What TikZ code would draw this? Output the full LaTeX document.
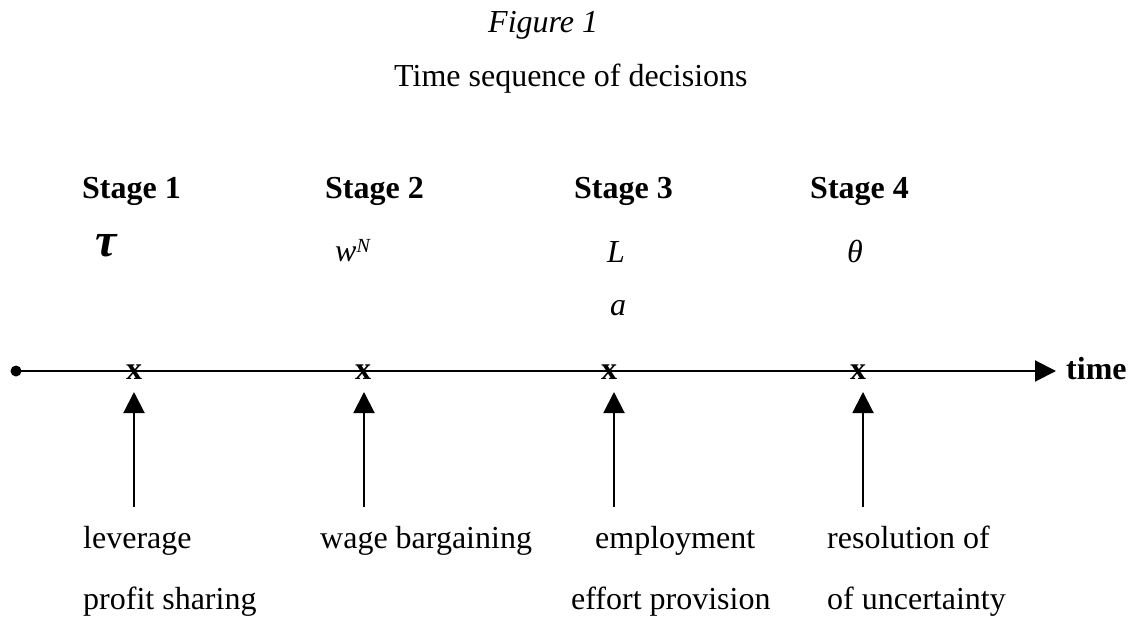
\documentclass[tikz,border=0pt]{standalone}
\usepackage{fontspec}
\setmainfont{Liberation Serif}
\usetikzlibrary{arrows.meta}
\begin{document}
\begin{tikzpicture}[x=1pt,y=-1pt,
  txt/.style={anchor=base west,inner sep=0pt,font=\fontsize{32}{38}\selectfont},
  btxt/.style={txt,font=\fontsize{32}{38}\selectfont\bfseries},
  itxt/.style={txt,font=\fontsize{32}{38}\selectfont\itshape},
  xmark/.style={anchor=base,inner sep=0pt,font=\fontsize{32}{38}\selectfont\bfseries},
  axis/.style={line width=2pt,-{Triangle[length=21pt,width=21pt]}},
  uparrow/.style={line width=2pt,-{Triangle[length=21pt,width=21pt]}}]
\useasboundingbox (0,0) rectangle (1132,617);
% titles
\node[itxt] (fig) at (488,33) {Figure 1};
\node[txt] (title) at (394,87) {Time sequence of decisions};
% stage labels
\node[btxt] (s1) at (82,199) {Stage 1};
\node[btxt] (s2) at (325,199) {Stage 2};
\node[btxt] (s3) at (574,199) {Stage 3};
\node[btxt] (s4) at (810,199) {Stage 4};
% variables
\node[txt,font=\fontsize{48}{48}\selectfont\bfseries\itshape] (tau) at (95,257) {τ};
\node[itxt] (w) at (335,262) {w\textsuperscript{\fontsize{20}{20}\selectfont N}};
\node[itxt] (L) at (607,263) {L};
\node[itxt] (theta) at (847,263) {θ};
\node[itxt] (a) at (610,316) {a};
% time axis
\node[circle,fill=black,inner sep=0pt,minimum size=11pt] (start) at (16,371) {};
\coordinate (end) at (1056,371);
\draw[axis] (start.center) -- (end);
\node[btxt] (time) at (1066,379) {time};
% marks
\node[xmark] (x1) at (134,380) {x};
\node[xmark] (x2) at (363,380) {x};
\node[xmark] (x3) at (609,380) {x};
\node[xmark] (x4) at (858,380) {x};
% arrows
\foreach \i/\xx in {1/134,2/364,3/614,4/863}{
  \coordinate (b\i) at (\xx,507);
  \coordinate (t\i) at (\xx,392);
  \draw[uparrow] (b\i) -- (t\i);
}
% descriptions
\node[txt] (d1a) at (83,548) {leverage};
\node[txt] (d1b) at (83,609) {profit sharing};
\node[txt] (d2a) at (320,548) {wage bargaining};
\node[txt] (d3a) at (595,548) {employment};
\node[txt] (d3b) at (571,609) {effort provision};
\node[txt] (d4a) at (827,548) {resolution of};
\node[txt] (d4b) at (827,609) {of uncertainty};
\end{tikzpicture}
\end{document}
